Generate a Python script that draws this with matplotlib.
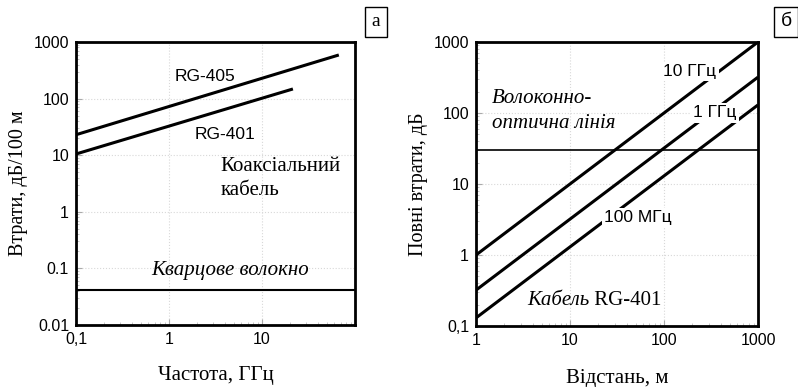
import matplotlib.pyplot as plt
from matplotlib.ticker import FixedLocator, LogLocator, NullFormatter

# panel a: loss vs frequency
freq_405 = [0.1, 67]
loss_405 = [23, 590]
freq_401 = [0.1, 21.5]
loss_401 = [10.5, 148]
quartz_loss = 0.042

# panel b: total loss vs distance for RG-401
dist = [1, 1000]
per_m = {"10 ГГц": 1.0, "1 ГГц": 0.32, "100 МГц": 0.13}
fiber_loss = 30

serif = "Liberation Serif"
sans = "Liberation Sans"
plt.rcParams['font.family'] = sans

fig = plt.figure(figsize=(7.98, 3.87), dpi=100)
W, H = 798, 387
FS = 15


def make_ax(l, t, r, b):
    return fig.add_axes([l / W, 1 - b / H, (r - l) / W, (b - t) / H])


def style(ax):
    for s in ax.spines.values():
        s.set_linewidth(2)
    ax.tick_params(which='major', direction='in', length=4, width=0.8,
                   color='#aaaaaa', labelsize=11.5, pad=5)
    ax.tick_params(which='minor', direction='in', length=2, width=0.6,
                   color='#bbbbbb')
    ax.grid(True, which='major', color='#d8d8d8', linestyle=':', linewidth=0.8)
    ax.xaxis.set_minor_locator(LogLocator(subs=range(2, 10)))
    ax.yaxis.set_minor_locator(LogLocator(subs=range(2, 10)))
    ax.xaxis.set_minor_formatter(NullFormatter())
    ax.yaxis.set_minor_formatter(NullFormatter())


# ---- panel a ----
ax1 = make_ax(76, 42, 355, 325)
ax1.set_xscale('log')
ax1.set_yscale('log')
ax1.set_xlim(0.1, 100)
ax1.set_ylim(0.01, 1000)
ax1.plot(freq_405, loss_405, color='black', lw=2.2, solid_capstyle='butt')
ax1.plot(freq_401, loss_401, color='black', lw=2.2, solid_capstyle='butt')
ax1.axhline(quartz_loss, color='black', lw=1.5)
ax1.xaxis.set_major_locator(FixedLocator([0.1, 1, 10]))
ax1.set_xticklabels(["0,1", "1", "10"])
ax1.yaxis.set_major_locator(FixedLocator([0.01, 0.1, 1, 10, 100, 1000]))
ax1.set_yticklabels(["0.01", "0.1", "1", "10", "100", "1000"])
style(ax1)
ax1.text(2.45, 250, "RG-405", fontsize=12.5, ha='center', va='center')
ax1.text(4.0, 23, "RG-401", fontsize=12.5, ha='center', va='center')
ax1.text(3.6, 6.2, "Коаксіальний", family=serif, fontsize=FS, ha='left', va='center')
ax1.text(3.6, 2.4, "кабель", family=serif, fontsize=FS, ha='left', va='center')
ax1.text(4.5, 0.093, "Кварцове волокно", family=serif, style='italic',
         fontsize=FS, ha='center', va='center')
ax1.set_xlabel("Частота, ГГц", family=serif, fontsize=FS, labelpad=14)
ax1.set_ylabel("Втрати, дБ/100 м", family=serif, fontsize=14.5, labelpad=4)
fig.text(376 / W, 1 - 22 / H, "а", family=serif, fontsize=14, ha='center',
         va='center', bbox=dict(boxstyle='square,pad=0.35', fc='white', ec='black', lw=1))

# ---- panel b ----
ax2 = make_ax(476, 42, 758, 326)
ax2.set_xscale('log')
ax2.set_yscale('log')
ax2.set_xlim(1, 1000)
ax2.set_ylim(0.1, 1000)
for name, k in per_m.items():
    ax2.plot(dist, [k * d for d in dist], color='black', lw=2.2,
             solid_capstyle='butt')
ax2.axhline(fiber_loss, color='black', lw=1.2)
ax2.xaxis.set_major_locator(FixedLocator([1, 10, 100, 1000]))
ax2.set_xticklabels(["1", "10", "100", "1000"])
ax2.yaxis.set_major_locator(FixedLocator([0.1, 1, 10, 100, 1000]))
ax2.set_yticklabels(["0,1", "1", "10", "100", "1000"])
style(ax2)
lbl = dict(fontsize=12.5, ha='center', va='center', zorder=5,
           bbox=dict(boxstyle='square,pad=0.12', fc='white', ec='none'))
ax2.text(189, 380, "10 ГГц", **lbl)
ax2.text(350, 100, "1 ГГц", **lbl)
ax2.text(53, 3.4, "100 МГц", **lbl)
ax2.text(1.48, 162, "Волоконно-", family=serif, style='italic', fontsize=FS,
         ha='left', va='center')
ax2.text(1.48, 72, "оптична лінія", family=serif, style='italic', fontsize=FS,
         ha='left', va='center')
cab = ax2.text(3.5, 0.23, "Кабель", family=serif, style='italic', fontsize=FS,
               ha='left', va='center')
ax2.annotate(" RG-401", xy=(1, 0.5), xycoords=cab, family=serif, fontsize=FS,
             ha='left', va='center')
ax2.set_xlabel("Відстань, м", family=serif, fontsize=FS, labelpad=15)
ax2.set_ylabel("Повні втрати, дБ", family=serif, fontsize=14.5, labelpad=4)
fig.text(786 / W, 1 - 22 / H, "б", fontsize=14, ha='center', va='center',
         bbox=dict(boxstyle='square,pad=0.35', fc='white', ec='black', lw=1))

fig.savefig("out.png", dpi=100)
